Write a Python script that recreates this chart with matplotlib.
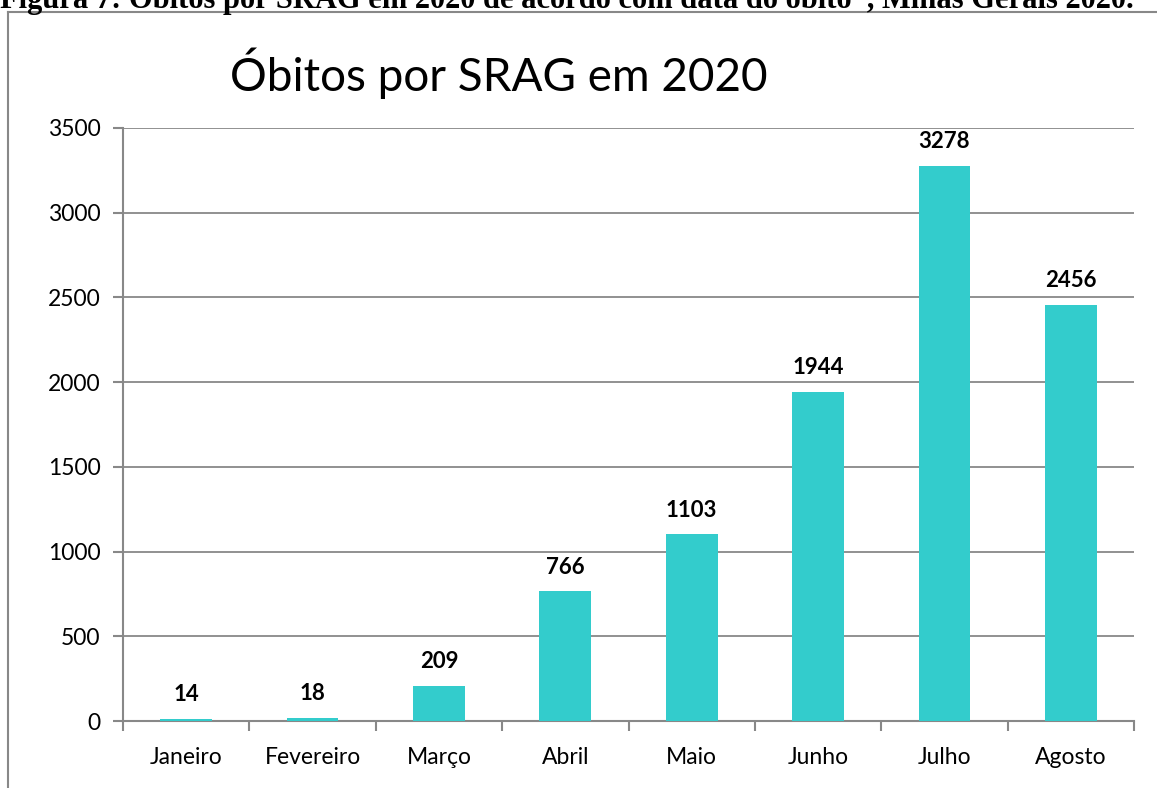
import matplotlib
matplotlib.use("Agg")
import matplotlib.pyplot as plt
from matplotlib.lines import Line2D
import numpy as np

categories = ["Janeiro", "Fevereiro", "Março", "Abril", "Maio", "Junho", "Julho", "Agosto"]
values = [14, 18, 209, 766, 1103, 1944, 3278, 2456]
yticks = [0, 500, 1000, 1500, 2000, 2500, 3000, 3500]
title = "Óbitos por SRAG em 2020"
caption = "Figura 7: Óbitos por SRAG em 2020 de acordo com data do óbito*, Minas Gerais 2020."

plt.rcParams['font.family'] = ['Lato', 'DejaVu Sans']

W, H = 1157, 788
fig = plt.figure(figsize=(W/100, H/100), dpi=100)
ax = fig.add_axes([123/W, 1-721/H, (1134-123)/W, (721-128)/H])

x = np.arange(len(categories))
ax.bar(x, values, width=0.41, color="#33CCCC", zorder=3)
for xi, v in zip(x, values):
    ax.text(xi, v + 80, str(v), ha='center', va='bottom', fontsize=16,
            fontweight='bold', color='black')

ax.set_xlim(-0.5, len(categories) - 0.5)
ax.set_ylim(0, 3500)
ax.set_yticks(yticks)
ax.set_yticklabels([str(t) for t in yticks], fontsize=16.5)
ax.set_xticks(x)
ax.set_xticklabels(categories, fontsize=16.5)
ax.set_xticks(np.arange(len(categories) + 1) - 0.5, minor=True)
ax.tick_params(axis='x', which='major', length=0, pad=19)
ax.tick_params(axis='x', which='minor', length=7, width=1.5, color='#888888', direction='out')
ax.tick_params(axis='y', length=7, width=1.5, color='#888888', direction='out', pad=9)
ax.grid(axis='y', color='#888888', linewidth=1.3, zorder=0)
for s in ['top', 'right']:
    ax.spines[s].set_visible(False)
for s in ['left', 'bottom']:
    ax.spines[s].set_color('#888888')
    ax.spines[s].set_linewidth(1.5)

fig.text(499/W, 1-73/H, title, ha='center', va='center', fontsize=33, color='black')

# outer frame
fig.add_artist(Line2D([8/W, 8/W], [0, 1-12/H], transform=fig.transFigure, color='#888888', lw=1.5))
fig.add_artist(Line2D([8/W, 1], [1-12/H, 1-12/H], transform=fig.transFigure, color='#888888', lw=1.5))

fig.text(0.0, 1-8/H, caption, ha='left', va='baseline', fontsize=22,
         fontweight='bold', family=['Liberation Serif', 'DejaVu Serif'])

fig.savefig("out.png", dpi=100)
